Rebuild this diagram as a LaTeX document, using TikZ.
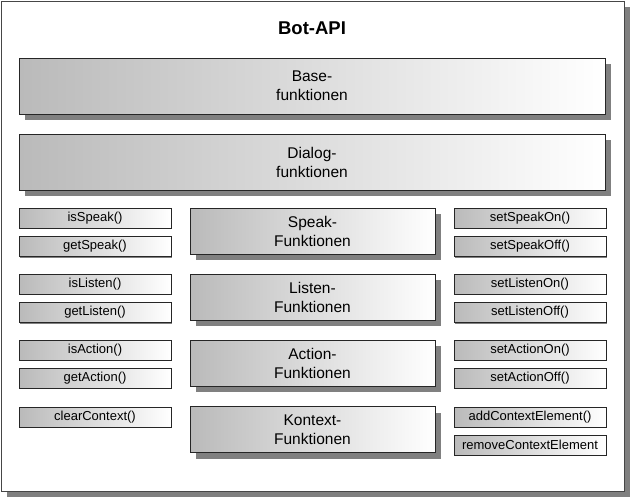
\documentclass[tikz,border=0pt]{standalone}
\usepackage{fontspec}
\setmainfont{Liberation Sans}
\usepackage{tikz}
\usetikzlibrary{shapes,positioning,calc,shadows}
\usepackage{xcolor}
\definecolor{shadowgray}{RGB}{128,128,128}
\definecolor{leftgray}{RGB}{186,186,186}
\definecolor{framegray}{RGB}{70,70,70}

\tikzset{
  apiframe/.style={draw=framegray,thick,fill=white,minimum width=623pt,minimum height=490pt,
    drop shadow={shadow xshift=6pt,shadow yshift=-6pt,fill=shadowgray,opacity=1}},
  bigbox/.style={draw=black!85,left color=leftgray,right color=white,minimum width=586pt,minimum height=56pt,
    align=center,font=\fontsize{15.5}{19}\selectfont,
    drop shadow={shadow xshift=6pt,shadow yshift=-6pt,fill=shadowgray,opacity=1}},
  midbox/.style={draw=black!85,left color=leftgray,right color=white,minimum width=245pt,minimum height=46pt,
    align=center,font=\fontsize{15.5}{19}\selectfont,
    drop shadow={shadow xshift=6pt,shadow yshift=-6pt,fill=shadowgray,opacity=1}},
  callbox/.style={draw=black!85,left color=leftgray,right color=white,minimum width=152pt,minimum height=20pt,
    inner sep=0pt,font=\fontsize{13}{15}\selectfont,
    drop shadow={shadow xshift=1pt,shadow yshift=-1pt,fill=shadowgray,opacity=1}}
}

\begin{document}
\begin{tikzpicture}[x=1pt,y=-1pt]
        \useasboundingbox (0,0) rectangle (631,499);
        \node[apiframe] (api) at (312.5,246) {};
        \node[font=\fontsize{18.5}{22}\selectfont\bfseries] (title) at (312,28) {Bot-API};

        \node[bigbox] (base) at (312,86) {Base-\\funktionen};
        \node[bigbox] (dialog) at (312,162) {Dialog-\\funktionen};

        % Speak
        \node[callbox] (isspeak) at (95,218) {isSpeak()};
        \node[callbox] (getspeak) at (95,246.5) {getSpeak()};
        \node[midbox] (speak) at (312.5,231) {Speak-\\Funktionen};
        \node[callbox] (speakon) at (530,218) {setSpeakOn()};
        \node[callbox] (speakoff) at (530,246.5) {setSpeakOff()};

        % Listen
        \node[callbox] (islisten) at (95,284) {isListen()};
        \node[callbox] (getlisten) at (95,312.5) {getListen()};
        \node[midbox] (listen) at (312.5,297) {Listen-\\Funktionen};
        \node[callbox] (listenon) at (530,284) {setListenOn()};
        \node[callbox] (listenoff) at (530,312.5) {setListenOff()};

        % Action
        \node[callbox] (isaction) at (95,350) {isAction()};
        \node[callbox] (getaction) at (95,378) {getAction()};
        \node[midbox] (action) at (312.5,363) {Action-\\Funktionen};
        \node[callbox] (actionon) at (530,350) {setActionOn()};
        \node[callbox] (actionoff) at (530,378) {setActionOff()};

        % Kontext
        \node[callbox] (clearctx) at (95,417) {clearContext()};
        \node[midbox] (kontext) at (312.5,429.5) {Kontext-\\Funktionen};
        \node[callbox] (addctx) at (530,417) {addContextElement()};
        \node[callbox] (removectx) at (530,445) {removeContextElement};
    \end{tikzpicture}
\end{document}
